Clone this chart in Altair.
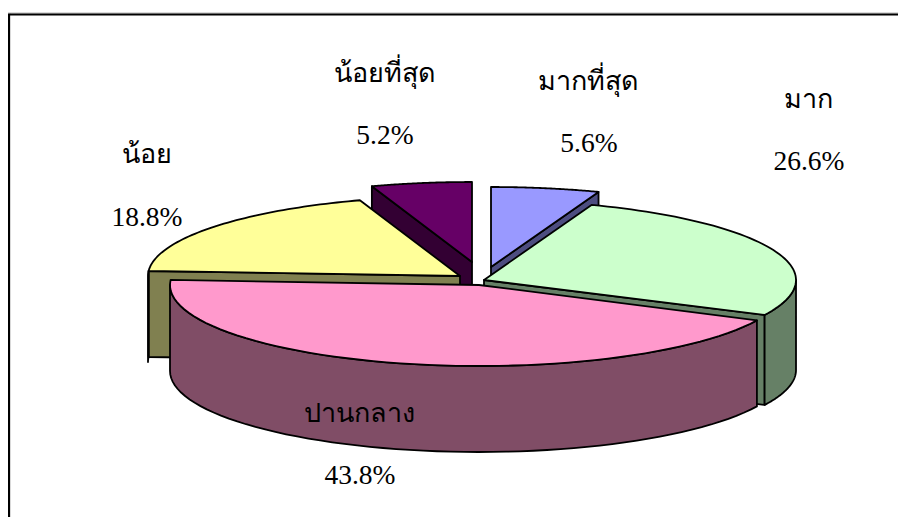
import math
import altair as alt
import pandas as pd

# Slices in clockwise drawing order from 12 o'clock
labels = ["มากที่สุด", "มาก", "ปานกลาง", "น้อย", "น้อยที่สุด"]
shares = [5.6, 26.6, 43.8, 18.8, 5.2]
tops = ["#9999FF", "#CCFFCC", "#FF99CC", "#FFFF99", "#660066"]
sides = ["#4D4D80", "#668066", "#804D66", "#808050", "#330033"]

# Exploded position of each slice's apex, radii and wall depth
apex_x = [491, 484, 479, 460, 472]
apex_y = [267, 280, 285, 276, 262]
radius_x = [312, 312, 309, 312, 312]
radius_y = [80, 80, 81, 80, 80]
depths = [86, 90, 86, 86, 86]
START = -90.0

# Label placement
name_x = [588, 808, 359, 147, 385]
name_y = [90, 108, 422, 163, 82]
pct_x = [589, 809, 360, 147, 385]
pct_y = [152, 170, 484, 226, 144]

THAI_FONT = "Liberation Serif"
FS = 27
PCT_FS = 27.5
X0, Y0, W, H = 8, 8, 890, 509

xs = alt.Scale(domain=[X0, X0 + W], range=[0, W], nice=False, zero=False)
ys = alt.Scale(domain=[Y0, Y0 + H], range=[0, H], nice=False, zero=False)

angles = []
a = START
for s in shares:
    angles.append((a, a + s * 3.6))
    a += s * 3.6


def arc(i, a0, a1, n=60):
    pts = []
    for k in range(n + 1):
        t = math.radians(a0 + (a1 - a0) * k / n)
        pts.append((apex_x[i] + radius_x[i] * math.cos(t), apex_y[i] + radius_y[i] * math.sin(t)))
    return pts


def poly(pts, fill, sw=1.8):
    pts = list(pts) + [pts[0], pts[1]]
    df = pd.DataFrame({"x": [p[0] for p in pts], "y": [p[1] for p in pts], "o": range(len(pts))})
    return alt.Chart(df).mark_line(
        fill=fill, stroke="black", strokeWidth=sw, strokeJoin="round", clip=False
    ).encode(
        x=alt.X("x:Q", scale=xs, axis=None),
        y=alt.Y("y:Q", scale=ys, axis=None),
        order="o:Q",
    )


def top(i):
    a0, a1 = angles[i]
    return poly([(apex_x[i], apex_y[i])] + arc(i, a0, a1), tops[i])


def radial_wall(i, a_end):
    t = math.radians(a_end)
    ex = apex_x[i] + radius_x[i] * math.cos(t)
    ey = apex_y[i] + radius_y[i] * math.sin(t)
    d = depths[i]
    return poly(
        [(apex_x[i], apex_y[i]), (ex, ey), (ex, ey + d), (apex_x[i], apex_y[i] + d)],
        sides[i],
    )


def outer_wall(i, a0, a1):
    p = arc(i, a0, a1)
    d = depths[i]
    return poly(p + [(x, y + d) for x, y in reversed(p)], sides[i])


BLUE, GREEN, PINK, YELLOW, PURPLE = range(5)
layers = [
    radial_wall(PURPLE, angles[PURPLE][0]),
    top(PURPLE),
    radial_wall(BLUE, angles[BLUE][1]),
    top(BLUE),
    radial_wall(YELLOW, angles[YELLOW][0]),
    outer_wall(YELLOW, 180, angles[YELLOW][0]),
    top(YELLOW),
    radial_wall(GREEN, angles[GREEN][1]),
    outer_wall(GREEN, 0, angles[GREEN][1]),
    top(GREEN),
    outer_wall(PINK, angles[PINK][0], 180),
    top(PINK),
]

# Frame: only the top and left edges fall inside the picture
for (x1, y1, x2, y2, c, w) in [
    (X0, 13, X0 + W, 13, "#b4b4b4", 1),
    (10, 13, 10, Y0 + H, "#b4b4b4", 1),
    (X0, 14.5, X0 + W, 14.5, "black", 2),
    (9, 14, 9, Y0 + H, "black", 2),
]:
    fr = pd.DataFrame({"x": [x1], "y": [y1], "x2": [x2], "y2": [y2]})
    layers.append(
        alt.Chart(fr).mark_rule(color=c, strokeWidth=w).encode(
            x=alt.X("x:Q", scale=xs, axis=None), x2="x2:Q",
            y=alt.Y("y:Q", scale=ys, axis=None), y2="y2:Q",
        )
    )

names = pd.DataFrame({"t": labels, "x": name_x, "y": name_y})
pcts = pd.DataFrame({"t": [f"{s:.1f}%" for s in shares], "x": pct_x, "y": pct_y})
for df, font, size in ((names, THAI_FONT, FS), (pcts, "Liberation Serif", PCT_FS)):
    layers.append(
        alt.Chart(df).mark_text(
            font=font, fontSize=size, color="black", align="center", baseline="alphabetic"
        ).encode(
            x=alt.X("x:Q", scale=xs, axis=None),
            y=alt.Y("y:Q", scale=ys, axis=None),
            text="t:N",
        )
    )

chart = alt.layer(*layers).properties(
    width=W, height=H, padding=0, autosize=alt.AutoSizeParams(type="none"), background="white"
).configure_view(stroke=None)

chart.save("out.html", embed_options={"renderer": "svg", "actions": False})
